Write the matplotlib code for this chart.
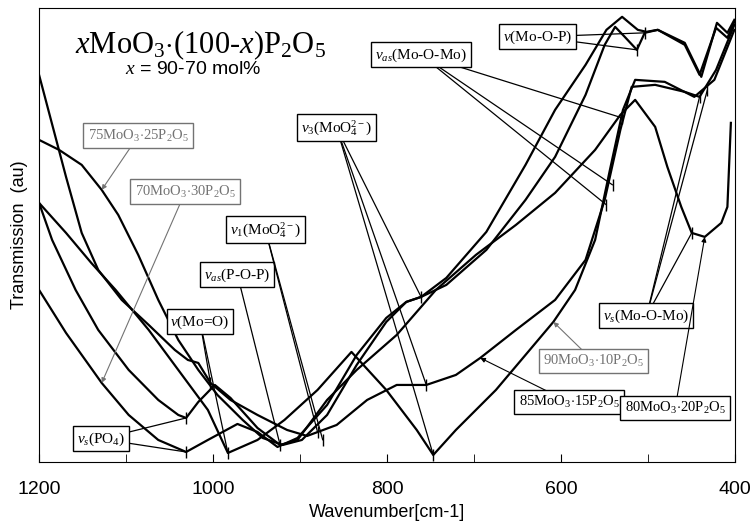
import matplotlib
matplotlib.use("Agg")
import matplotlib.pyplot as plt

plt.rcParams['font.family'] = ['Liberation Sans', 'DejaVu Sans']
plt.rcParams['mathtext.fontset'] = 'custom'
plt.rcParams['mathtext.rm'] = 'Liberation Serif'
plt.rcParams['mathtext.it'] = 'Liberation Serif:italic'
plt.rcParams['mathtext.bf'] = 'Liberation Serif:bold'

# spectra: wavenumber (cm-1) and transmission (arbitrary units)
wn_70 = [1200, 1169, 1128, 1097, 1063, 1031, 1006, 972, 949, 926, 903, 869, 835, 801, 778, 761, 732, 686, 641, 607, 572, 548, 530, 512, 502, 489, 458, 439, 421, 409, 401]
tr_70 = [172, 129, 79, 47, 22, 10, 22, 38, 30, 15, 24, 57, 107, 144, 160, 165, 184, 230, 297, 352, 397, 432, 445, 432, 430, 432, 419, 385, 439, 429, 442]

wn_75 = [1200, 1177, 1151, 1128, 1109, 1086, 1063, 1040, 1017, 995, 966, 943, 920, 898, 869, 835, 801, 778, 761, 732, 686, 641, 607, 572, 550, 538, 527, 513, 504, 489, 458, 441, 422, 409, 401]
tr_75 = [322, 312, 297, 272, 247, 207, 162, 122, 92, 67, 42, 24, 17, 22, 47, 97, 140, 160, 165, 177, 212, 262, 305, 367, 417, 435, 425, 412, 429, 432, 417, 387, 434, 424, 440]

wn_80 = [1200, 1185, 1158, 1132, 1097, 1063, 1040, 1031, 1017, 998, 980, 949, 923, 903, 869, 835, 789, 744, 698, 652, 607, 561, 532, 515, 492, 478, 462, 450, 435, 416, 409, 405]
tr_80 = [259, 222, 172, 132, 92, 62, 47, 44, 60, 77, 64, 34, 17, 22, 62, 92, 127, 172, 207, 237, 269, 312, 347, 362, 335, 295, 255, 229, 225, 239, 255, 339]

wn_85 = [1200, 1169, 1151, 1132, 1105, 1074, 1044, 1029, 1017, 1003, 980, 949, 915, 892, 858, 823, 789, 755, 721, 693, 652, 607, 572, 550, 532, 519, 492, 458, 441, 422, 401]
tr_85 = [387, 285, 229, 192, 162, 137, 112, 102, 99, 79, 62, 47, 32, 26, 37, 62, 77, 77, 87, 104, 132, 162, 202, 262, 332, 375, 377, 370, 365, 392, 437]

wn_90 = [1200, 1169, 1140, 1112, 1074, 1040, 1006, 983, 949, 918, 880, 841, 801, 766, 747, 721, 675, 641, 609, 584, 561, 544, 529, 515, 481, 447, 424, 401]
tr_90 = [259, 229, 199, 172, 132, 92, 52, 9, 22, 42, 72, 110, 72, 32, 7, 32, 72, 107, 140, 172, 222, 292, 352, 382, 380, 365, 382, 432]

# band labels: text, box position, arrow targets
bands = [
    (r'$\nu_s$(PO$_4$)', (1129, 23), [(1031, 44), (1031, 10)]),
    (r'$\nu$(Mo=O)', (1015, 140), [(1003, 79), (983, 9)]),
    (r'$\nu_{as}$(P-O-P)', (972, 187), [(923, 17)]),
    (r'$\nu_1$(MoO$_4^{2-}$)', (940, 232), [(880, 30), (874, 22)]),
    (r'$\nu_3$(MoO$_4^{2-}$)', (858, 334), [(761, 165), (755, 77), (747, 7)]),
    (r'$\nu_{as}$(Mo-O-Mo)', (761, 407), [(530, 344), (541, 277), (548, 257)]),
    (r'$\nu$(Mo-O-P)', (627, 425), [(504, 429), (513, 412)]),
    (r'$\nu_s$(Mo-O-Mo)', (502, 146), [(450, 229), (441, 365), (432, 372)]),
]

# composition labels: text, box position, arrow target, colour
samples = [
    (r'75MoO$_3$$\cdot$25P$_2$O$_5$', (1086, 326), (1128, 272), '0.45'),
    (r'70MoO$_3$$\cdot$30P$_2$O$_5$', (1032, 270), (1128, 79), '0.45'),
    (r'90MoO$_3$$\cdot$10P$_2$O$_5$', (563, 101), (609, 140), '0.45'),
    (r'85MoO$_3$$\cdot$15P$_2$O$_5$', (591, 60), (693, 104), 'black'),
    (r'80MoO$_3$$\cdot$20P$_2$O$_5$', (469, 54), (435, 225), 'black'),
]

fig = plt.figure(figsize=(7.51, 5.22), dpi=100)
ax = fig.add_axes([0.052, 0.115, 0.927, 0.87])

for wn, tr in [(wn_70, tr_70), (wn_75, tr_75), (wn_80, tr_80), (wn_85, tr_85), (wn_90, tr_90)]:
    ax.plot(wn, tr, color='black', lw=1.6)

serif = 'Liberation Serif'
for txt, pos, targets in bands:
    for t in targets:
        ax.annotate('', xy=t, xytext=pos,
                    arrowprops=dict(arrowstyle='-', color='black', lw=0.9,
                                    shrinkA=0, shrinkB=0))
        ax.plot(t[0], t[1], marker='|', ms=9, mew=1.0, color='black')
    ax.text(pos[0], pos[1], txt, fontsize=11, ha='center', va='center', family=serif,
            bbox=dict(boxstyle='square,pad=0.25', fc='white', ec='black', lw=1.0))

for txt, pos, target, col in samples:
    ax.annotate('', xy=target, xytext=pos,
                arrowprops=dict(arrowstyle='-|>', color=col, lw=0.8,
                                mutation_scale=7, shrinkA=0, shrinkB=0))
    ax.text(pos[0], pos[1], txt, fontsize=10.5, ha='center', va='center', color=col,
            family=serif,
            bbox=dict(boxstyle='square,pad=0.3', fc='white', ec=col, lw=1.0))

ax.text(1015, 417, r'$\mathit{x}$MoO$_3$$\cdot$$\mathit{(100}$-$\mathit{x)}$P$_2$O$_5$',
        fontsize=22, ha='center', va='center', family=serif)
ax.text(1023, 392, r'$\mathit{x}$ = 90-70 mol%', fontsize=14, ha='center', va='center')

ax.set_xlim(1200, 400)
ax.set_ylim(0, 454)
ax.set_xticks([1200, 1000, 800, 600, 400])
ax.set_xticks([1100, 900, 700, 500], minor=True)
ax.tick_params(axis='x', direction='in', length=6, labelsize=14, pad=14)
ax.tick_params(axis='x', which='minor', direction='in', length=6)
ax.set_yticks([])
ax.set_xlabel('Wavenumber[cm-1]', fontsize=13)
ax.set_ylabel('Transmission  (au)', fontsize=13, labelpad=8)

fig.savefig('out.png', dpi=100)
